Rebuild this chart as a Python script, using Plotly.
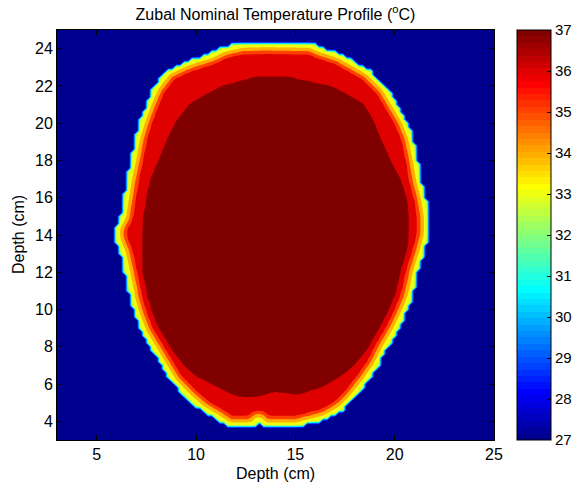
import numpy as np
import plotly.graph_objects as go

# ---------------- data ----------------
title_text = "Zubal Nominal Temperature Profile (<sup>o</sup>C)"
x_label = "Depth (cm)"
y_label = "Depth (cm)"
x_ticks = [5, 10, 15, 20, 25]
y_ticks = [4, 6, 8, 10, 12, 14, 16, 18, 20, 22, 24]
cbar_ticks = [27, 28, 29, 30, 31, 32, 33, 34, 35, 36, 37]
contour_levels = [28, 29, 30, 31, 32, 33, 34, 35, 36, 37]

ambient_temp = 27.0

# outer skin outline of the head (cm)
outer_x = [12.3, 13.5, 15.8, 16.24, 17.25, 18.76, 19.6, 20.1, 20.6, 20.94, 21.2, 21.35,
           21.6, 21.75, 21.75, 21.5, 21.2, 21.0, 20.86, 20.52, 20.1, 19.6, 19.18, 18.59,
           17.92, 17.42, 16.58, 15.07, 13.4, 13.15, 12.9, 11.63, 11.04, 10.2, 9.61, 8.78,
           8.27, 7.77, 7.26, 6.93, 6.68, 6.6, 6.4, 6.2, 5.9, 5.9, 6.2, 6.35, 6.5, 6.7,
           6.93, 7.18, 7.5, 7.85, 8.5, 9.5, 10.7, 11.37]
outer_y = [24.32, 24.35, 24.32, 24.1, 23.75, 22.85, 21.96, 21.07, 20.17, 19.28, 18.0, 17.0,
           16.0, 15.0, 14.0, 13.0, 12.0, 11.0, 10.5, 9.62, 8.73, 7.83, 6.94, 6.05,
           5.15, 4.61, 4.08, 3.66, 3.66, 3.95, 3.66, 3.66, 4.08, 4.61, 5.15, 6.05,
           6.94, 7.83, 8.73, 9.62, 10.5, 11.0, 12.0, 13.0, 13.8, 14.4, 15.0, 16.0, 17.0, 18.0,
           19.28, 20.17, 21.07, 21.96, 22.85, 23.35, 23.75, 24.1]

# boundary of the 37 degC core (cm)
core_x = [14.6, 16.9, 18.4, 18.93, 19.26, 19.8, 20.3, 20.6, 20.7, 20.7, 20.6, 20.4, 20.2,
          20.1, 19.85, 19.5, 18.6, 17.9, 17.25, 16.4, 15.07, 14.3, 13.9, 13.4, 12.6,
          11.88, 11.04, 10.03, 9.44, 8.78, 8.1, 7.68, 7.43, 7.35, 7.3, 7.3, 7.3, 7.35,
          7.5, 7.7, 8.1, 8.6, 9.03, 9.7, 11.2, 13.0]
core_y = [22.5, 21.96, 21.07, 20.17, 19.28, 18.0, 17.0, 16.0, 15.0, 14.0, 13.0, 12.0, 11.0,
          10.5, 9.62, 8.73, 7.83, 6.94, 6.4, 5.86, 5.41, 5.55, 5.6, 5.4, 5.27,
          5.41, 5.86, 6.4, 6.94, 7.83, 8.73, 9.62, 10.5, 11.0, 12.0, 13.0, 14.0, 15.0,
          16.0, 17.0, 18.0, 19.28, 20.17, 21.07, 21.96, 22.5]

# temperature versus depth below the skin (cm, degC)
skin_depth_cm = [0.0, 0.2, 0.4, 0.55, 0.65, 0.8, 1.0, 5.0]
skin_temp_c = [32.8, 33.6, 34.6, 35.6, 36.2, 36.6, 37.5, 37.5]
# temperature across the core boundary (signed distance cm, degC)
core_edge_dist_cm = [-0.1, 0.1]
core_edge_temp_c = [36.6, 37.4]

grid_step_cm = 0.2
# ----------------------------------------------------------------


def signed_dist(px, py, vx, vy):
    ax = np.asarray(vx, float)
    ay = np.asarray(vy, float)
    bx = np.roll(ax, -1)
    by = np.roll(ay, -1)
    dx = bx - ax
    dy = by - ay
    PX = px[..., None]
    PY = py[..., None]
    t = ((PX - ax) * dx + (PY - ay) * dy) / (dx * dx + dy * dy)
    t = np.clip(t, 0, 1)
    d = np.sqrt((PX - (ax + t * dx)) ** 2 + (PY - (ay + t * dy)) ** 2).min(-1)
    cond = (ay > PY) != (by > PY)
    den = np.where(by - ay == 0, 1.0, by - ay)
    xint = ax + (PY - ay) * (bx - ax) / den
    inside = (cond & (PX < xint)).sum(-1) % 2 == 1
    return np.where(inside, d, -d)


xg = np.arange(3.0, 25.0 + 1e-9, grid_step_cm)
yg = np.arange(3.0, 25.0 + 1e-9, grid_step_cm)
X, Y = np.meshgrid(xg, yg)
s_out = signed_dist(X, Y, outer_x, outer_y)
s_core = signed_dist(X, Y, core_x, core_y)
T_skin = np.interp(s_out, skin_depth_cm, skin_temp_c)
T_core = np.interp(s_core, core_edge_dist_cm, core_edge_temp_c)
T = np.where(s_out > 0, np.minimum(T_skin, T_core), ambient_temp)


def jet64():
    n, m = 64, 16
    u = np.concatenate([np.arange(1, m + 1) / m, np.ones(m - 1), np.arange(m, 0, -1) / m])
    g = m // 2 + np.arange(1, len(u) + 1)
    J = np.zeros((n, 3))
    for idx, col in ((g + m, 0), (g, 1), (g - m, 2)):
        ok = (idx >= 1) & (idx <= n)
        J[idx[ok] - 1, col] = u[ok]
    return J


J = jet64()
cmin, cmax = cbar_ticks[0], cbar_ticks[-1]


def rgb(c):
    return "rgb(%d,%d,%d)" % tuple(int(round(v * 255)) for v in c)


def level_color(L):
    i = min(int(np.floor((L - cmin) / (cmax - cmin) * 64)), 63)
    return rgb(J[i])


fill_scale = [[(L - cmin) / (cmax - cmin), level_color(L)] for L in [cmin] + contour_levels]

bar_scale = []
for i in range(64):
    bar_scale.append([i / 64, rgb(J[i])])
    bar_scale.append([(i + 1) / 64, rgb(J[i])])

FONT = "Liberation Sans, Arial, Helvetica, sans-serif"
FS = 16

# plot area in pixels: x 57..494, y 30..440
PL, PR, PT, PB = 57, 494, 30, 440
PW, PH = PR - PL, PB - PT

fig = go.Figure()
fig.add_trace(go.Contour(
    x=xg, y=yg, z=T,
    autocontour=False,
    contours=dict(start=contour_levels[0], end=contour_levels[-1],
                  size=contour_levels[1] - contour_levels[0],
                  coloring="fill", showlines=False),
    line=dict(width=0, smoothing=0),
    colorscale=fill_scale, showscale=False, hoverinfo="skip",
))
fig.add_trace(go.Scatter(
    x=[None], y=[None], mode="markers", showlegend=False, hoverinfo="skip",
    marker=dict(color=[cmin], cmin=cmin, cmax=cmax, colorscale=bar_scale, showscale=True,
                colorbar=dict(x=(517 - PL) / PW, xanchor="left", y=0.5, yanchor="middle",
                              len=1, lenmode="fraction", thickness=34, thicknessmode="pixels",
                              xpad=0, ypad=0, outlinecolor="black", outlinewidth=1,
                              tickvals=cbar_ticks, ticks="inside", ticklen=4,
                              tickcolor="black", tickfont=dict(family=FONT, size=15, color="black"))),
))

axis_common = dict(showgrid=False, zeroline=False, showline=True, linecolor="black",
                   linewidth=1, mirror="ticks", ticks="inside", ticklen=5,
                   tickcolor="black", tickfont=dict(family=FONT, size=FS, color="black"))
fig.update_layout(
    width=572, height=486,
    margin=dict(l=PL, r=572 - PR, t=PT, b=486 - PB, autoexpand=False),
    paper_bgcolor="white", plot_bgcolor="white",
    font=dict(family=FONT, size=FS, color="black"),
    title=dict(text=title_text, x=0.5, xref="paper", xanchor="center",
               y=1 - 14 / 486, yref="container", yanchor="middle",
               font=dict(family=FONT, size=FS, color="black")),
    xaxis=dict(range=[3, 25], tickvals=x_ticks, **axis_common),
    yaxis=dict(range=[3, 25], tickvals=y_ticks, **axis_common),
    showlegend=False,
    annotations=[
        dict(text=x_label, xref="paper", yref="paper", x=0.5, y=-33 / PH,
             xanchor="center", yanchor="middle", showarrow=False,
             font=dict(family=FONT, size=FS, color="black")),
        dict(text=y_label, xref="paper", yref="paper", x=-39 / PW, y=0.5,
             xanchor="center", yanchor="middle", textangle=-90, showarrow=False,
             font=dict(family=FONT, size=FS, color="black")),
    ],
)

fig.write_html("out.html",
               config={"displayModeBar": False},
               post_script="document.body.style.margin='0px';document.body.style.padding='0px';")
